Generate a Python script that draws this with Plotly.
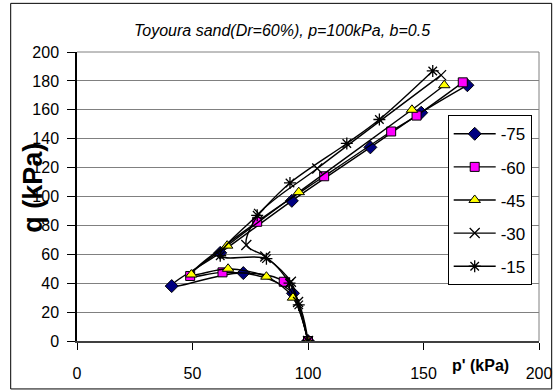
import plotly.graph_objects as go

# Effective stress paths, Toyoura sand (Dr=60%), p=100kPa, b=0.5
series_names = ["-75", "-60", "-45", "-30", "-15"]

p_m75 = [100, 93.5, 72, 41, 62, 93, 127, 149, 169]
q_m75 = [0, 33, 47, 38, 61, 97, 134, 158, 177]

p_m60 = [100, 89.5, 63, 49, 78, 107, 136, 147, 167]
q_m60 = [0, 41, 47.5, 45, 82.5, 114, 145, 156, 179]

p_m45 = [100, 93.5, 82, 65.4, 49.5, 65, 96, 145, 159]
q_m45 = [0, 30, 44.5, 50, 46, 66, 103, 160, 177]

p_m30 = [100, 95.7, 92.6, 81.5, 73.3, 78.8, 104, 157.6]
q_m30 = [0, 27, 41, 58.5, 66.4, 88, 119.4, 184]

p_m15 = [100, 96, 92, 82, 62, 78, 92.2, 116.8, 130.9, 154]
q_m15 = [0, 25, 40, 57, 59, 87, 109.4, 136.7, 153.3, 186.9]

x_ticks = [0, 50, 100, 150, 200]
y_ticks = [0, 20, 40, 60, 80, 100, 120, 140, 160, 180, 200]

FONT = "Liberation Sans, Arial, sans-serif"

styles = [
    dict(symbol="diamond", size=10, color="#000080", line=dict(color="black", width=1)),
    dict(symbol="square", size=9, color="#FF00FF", line=dict(color="black", width=1)),
    dict(symbol="triangle-up", size=10, color="#FFFF00", line=dict(color="black", width=1)),
    dict(symbol="x-thin-open", size=10, color="black", line=dict(color="black", width=1.3)),
    dict(symbol="asterisk-open", size=10, color="black", line=dict(color="black", width=1.3)),
]
data = [(p_m75, q_m75), (p_m60, q_m60), (p_m45, q_m45), (p_m30, q_m30), (p_m15, q_m15)]

fig = go.Figure()
for name, (px, qy), mk in zip(series_names, data, styles):
    fig.add_trace(go.Scatter(
        x=px, y=qy, name=name, mode="lines+markers",
        line=dict(color="black", width=1.4, shape="spline", smoothing=0.9),
        marker=mk, legendgroup=name,
    ))

# plot area in pixels: x 77..539, y 52..341
L, R, T, B = 77.3, 539.3, 51.7, 341.0
W, H = R - L, B - T

def xp(px):
    return (px - L) / W

def yp(py):
    return (B - py) / H

fig.update_layout(
    width=554, height=392,
    margin=dict(l=L, r=554 - R, t=T, b=392 - B, autoexpand=False),
    paper_bgcolor="white", plot_bgcolor="white",
    font=dict(family=FONT, color="black", size=16),
    showlegend=True,
    legend=dict(
        x=xp(448), y=yp(115), xanchor="left", yanchor="top",
        bgcolor="white", bordercolor="black", borderwidth=1,
        font=dict(size=17, family=FONT), tracegroupgap=8, itemwidth=42,
    ),
    xaxis=dict(
        range=[0, 200], tickvals=x_ticks, ticks="outside", ticklen=7,
        tickcolor="black", showgrid=False, zeroline=False,
        showline=True, linecolor="#404040", linewidth=2,
        tickfont=dict(size=16, family=FONT), ticklabelstandoff=10,
        automargin=False,
    ),
    yaxis=dict(
        range=[0, 200], tickvals=y_ticks, ticks="outside", ticklen=8,
        tickcolor="black", showgrid=True, gridcolor="#808080", gridwidth=1,
        zeroline=False, showline=True, linecolor="black", linewidth=1.5,
        tickfont=dict(size=16, family=FONT), ticklabelstandoff=5,
        automargin=False,
    ),
    shapes=[
        # outer chart border
        dict(type="rect", xref="paper", yref="paper",
             x0=xp(11), x1=xp(552), y0=yp(389), y1=yp(3),
             line=dict(color="black", width=1), layer="below"),
        # right and top edges of plotting area
        dict(type="line", xref="paper", yref="paper", x0=1, x1=1, y0=0, y1=1,
             line=dict(color="#808080", width=1), layer="below"),
        dict(type="line", xref="paper", yref="paper", x0=0, x1=1, y0=1, y1=1,
             line=dict(color="#808080", width=1), layer="below"),
    ],
    annotations=[
        dict(text="<i>Toyoura sand(Dr=60%), p=100kPa, b=0.5</i>", xref="paper", yref="paper",
             x=xp(282), y=yp(30), showarrow=False, font=dict(size=16, family=FONT),
             xanchor="center", yanchor="middle"),
        dict(text="<b>q (kPa)</b>", xref="paper", yref="paper", textangle=-90,
             x=xp(33), y=yp(188), showarrow=False, font=dict(size=27, family=FONT),
             xanchor="center", yanchor="middle"),
        dict(text="<b>p' (kPa)</b>", xref="paper", yref="paper",
             x=xp(481), y=yp(366), showarrow=False, font=dict(size=16, family=FONT),
             xanchor="center", yanchor="middle"),
    ],
)

fig.write_html("out.html")
